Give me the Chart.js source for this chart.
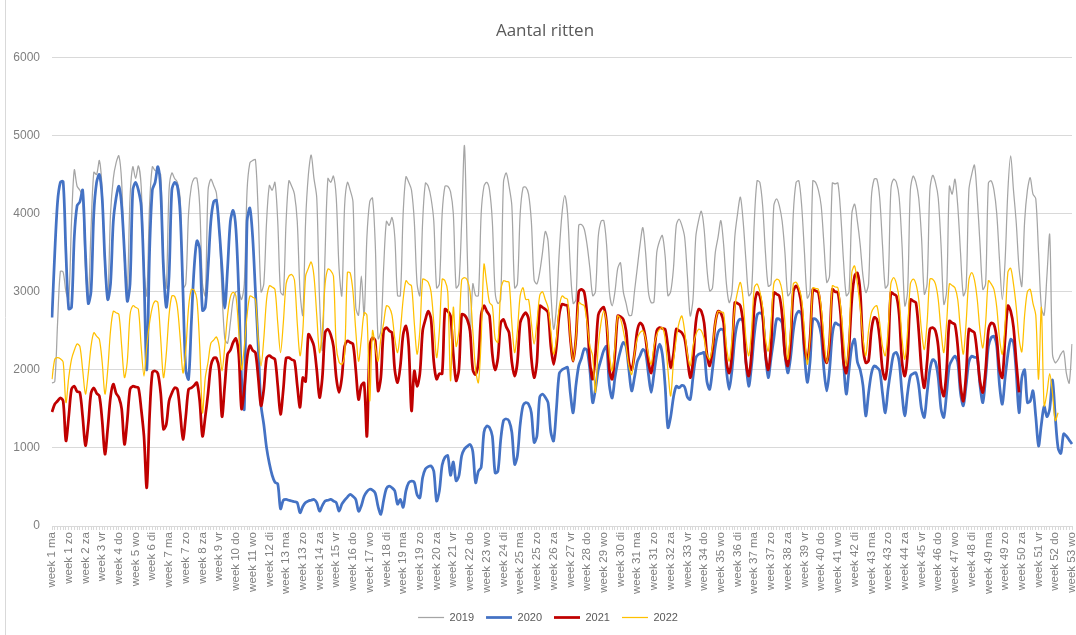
<!DOCTYPE html>
<html>
<head>
<meta charset="utf-8">
<script src="https://cdn.jsdelivr.net/npm/chart.js@4.4.1/dist/chart.umd.min.js"></script>
<style>
  html, body { margin: 0; padding: 0; background: #fff; }
  #wrap { width: 1076px; height: 635px; }
</style>
</head>
<body>
<div id="wrap"><canvas id="chart" width="1076" height="635"></canvas></div>
<script>
// dagen en weken voor de as
const weekdays = ['ma', 'di', 'wo', 'do', 'vr', 'za', 'zo'];
const weekCount = 53;
const dayCount = 367;

// ritten per dag, een regel per week
const ritten2019 = [
  1830, 1850, 2600, 3260, 3250, 3000, 2900,
  3900, 4560, 4350, 4300, 4200, 3300, 2900,
  3800, 4530, 4500, 4680, 4300, 3300, 2900,
  4000, 4450, 4650, 4740, 4400, 3400, 3000,
  4200, 4600, 4450, 4610, 4350, 3300, 2950,
  4100, 4600, 4550, 4540, 4500, 3400, 3050,
  4300, 4520, 4450, 4400, 4200, 3050, 3100,
  4000, 4350, 4450, 4450, 4100, 3100, 2950,
  4300, 4440, 4360, 4260, 3800, 3000, 2400,
  2340, 2600, 2900, 3000, 3000, 2900, 3100,
  4300, 4650, 4680, 4690, 4000, 3000, 3100,
  3900, 4360, 4300, 4400, 3900, 3000, 2960,
  3900, 4420, 4350, 4250, 3900, 3000, 2700,
  3900, 4500, 4750, 4450, 4200, 2900, 2250,
  3500, 4450, 4400, 4480, 4200, 3300, 2950,
  4100, 4400, 4300, 4150, 2800, 2700, 3200,
  2700, 3700, 4150, 4200, 3600, 2400, 2500,
  3300, 3900, 3850, 3950, 3700, 2950, 2950,
  4000, 4470, 4400, 4300, 3900, 3100, 2950,
  3900, 4390, 4350, 4200, 3900, 3050, 3100,
  4000, 4350, 4350, 4280, 4000, 3050, 3100,
  3900, 4870, 3500, 2430, 3100, 2950, 2950,
  4000, 4350, 4400, 4300, 3900, 3000, 2850,
  2900, 4400, 4520, 4350, 4100, 3050, 3100,
  4000, 4330, 4340, 4250, 3900, 3150, 3100,
  3250, 3500, 3770, 3650, 3000, 2520, 2800,
  3500, 4000, 4230, 4000, 3300, 2850, 2900,
  3850, 3860, 3800, 3600, 3300, 2950, 3000,
  3700, 3900, 3910, 3600, 3000, 2820, 3000,
  3300, 3370, 3000, 2850, 2700, 2700, 3000,
  3300, 3600, 3820, 3500, 3000, 2860, 2870,
  3500, 3650, 3720, 3460, 2950, 3000, 3300,
  3850, 3930, 3850, 3700, 3200, 2690, 2900,
  3700, 3910, 4030, 3800, 3300, 3010, 3050,
  3500, 3700, 3910, 3600, 3100, 2860, 3000,
  3700, 4000, 4210, 3900, 3400, 2950, 3000,
  3900, 4420, 4400, 4100, 3500, 3070, 3100,
  4100, 4190, 4100, 3900, 3500, 2950, 3000,
  4000, 4400, 4420, 4100, 3500, 2920, 3000,
  4420, 4400, 4300, 4100, 3600, 3120, 3200,
  4390, 4380, 4390, 4000, 3400, 2950, 3000,
  4000, 4120, 3900, 3600, 3200, 2990, 3100,
  4200, 4440, 4440, 4200, 3600, 3050, 3100,
  4300, 4440, 4400, 4200, 3600, 2820, 3000,
  4300, 4480, 4400, 4200, 3700, 2970, 3100,
  4300, 4490, 4400, 4200, 3600, 2840, 3000,
  4350, 4250, 4440, 4100, 3500, 2950, 3050,
  4300, 4500, 4620, 4200, 3600, 3030, 3100,
  4390, 4420, 4300, 4000, 3400, 2900, 3400,
  4300, 4740, 4300, 3880, 3300, 3070, 3900,
  4300, 4460, 4250, 4190, 3500, 2800, 2700,
  3200, 3730, 2200, 2090, 2130, 2200, 2240,
  1950, 1830, 2330
];

const ritten2020 = [
  2670, 3500, 4150, 4400, 4410, 3500, 2780,
  2800, 3700, 4100, 4150, 4300, 3500, 2850,
  3000, 4000, 4400, 4500, 4200, 3400, 2900,
  3100, 3900, 4200, 4350, 4100, 3500, 2880,
  3100, 4300, 4400, 4300, 4100, 3200, 2000,
  3500, 4300, 4400, 4600, 4300, 3300, 2800,
  3200, 4300, 4400, 4350, 4000, 3000, 2000,
  1880, 2600, 3300, 3650, 3550, 2760, 2800,
  3300, 3900, 4150, 4170, 3800, 3300, 2790,
  3300, 3900, 4040, 3800, 3000, 1900, 1500,
  3900, 4070, 3700, 3000, 2300, 1550, 1300,
  1000, 800, 650, 560, 540, 220, 330,
  340, 330, 320, 310, 300, 170, 250,
  300, 320, 330, 340, 300, 190, 260,
  320, 330, 340, 320, 300, 190, 280,
  330, 370, 405, 380, 340, 190, 260,
  380, 440, 470, 460, 420, 250, 150,
  330, 480, 510, 490, 450, 280, 340,
  240, 450, 555, 575, 560, 400, 360,
  620, 730, 760, 770, 700, 320, 450,
  780, 880, 900, 650, 820, 580, 640,
  900, 985, 1020, 1045, 950, 555, 700,
  750, 1200, 1280, 1260, 1150, 680, 700,
  1100, 1350, 1370, 1345, 1200, 790, 900,
  1300, 1540, 1580, 1560, 1450, 1070, 1150,
  1650, 1690, 1650, 1580, 1200, 1090, 1500,
  1950, 2000, 2020, 2030, 1700, 1450, 1800,
  2050, 2150, 2270, 2250, 2000, 1580, 1750,
  2000, 2130, 2250, 2300, 1800, 1640, 1900,
  2100, 2250, 2350, 2300, 2000, 1730, 1900,
  2100, 2180, 2260, 2220, 1950, 1710, 1950,
  2200, 2330, 2200, 1800, 1260, 1400, 1650,
  1790, 1770, 1800, 1780, 1650, 1620, 1900,
  2150, 2200, 2210, 2220, 1850, 1750, 2000,
  2300, 2480, 2520, 2500, 2000, 1750, 2000,
  2400, 2600, 2650, 2620, 2100, 1790, 2050,
  2450, 2700, 2730, 2700, 2200, 1900, 2150,
  2400, 2650, 2650, 2600, 2200, 1960, 2150,
  2500, 2700, 2750, 2700, 2200, 1840, 2100,
  2650, 2650, 2600, 2450, 2000, 1730, 2000,
  2450, 2600, 2580, 2560, 2100, 1690, 2000,
  2300, 2390, 2100, 2000, 1800, 1410, 1700,
  1950, 2050, 2030, 1985, 1700, 1450, 1750,
  2000, 2200, 2220, 2100, 1700, 1410, 1700,
  1920, 1950, 1960, 1800, 1500, 1390, 1700,
  2000, 2130, 2100, 1900, 1500, 1390, 1700,
  2050, 2130, 2175, 2100, 1700, 1540, 1800,
  2100, 2175, 2160, 2150, 1800, 1580, 1900,
  2300, 2410, 2430, 2300, 1800, 1560, 1900,
  2200, 2390, 2350, 1960, 1450, 1900, 2000,
  1580, 1600, 1730, 1400, 1025, 1300, 1530,
  1400, 1500, 1870, 1400, 1000, 930, 1180,
  1150, 1100, 1050
];

const ritten2021 = [
  1460, 1560, 1600, 1640, 1600, 1090, 1400,
  1750, 1790, 1720, 1710, 1400, 1030, 1300,
  1700, 1770, 1700, 1665, 1350, 920, 1250,
  1650, 1815, 1700, 1645, 1500, 1045, 1350,
  1750, 1790, 1780, 1770, 1500, 1150, 490,
  1400, 1965, 1985, 1950, 1700, 1240, 1300,
  1600, 1700, 1770, 1750, 1450, 1110, 1400,
  1750, 1770, 1800, 1835, 1600, 1150, 1400,
  1700, 2050, 2150, 2150, 2000, 1400, 1800,
  2200, 2250, 2350, 2400, 2200, 1500, 1750,
  2150, 2310, 2250, 2220, 1900, 1540, 1750,
  2150, 2180, 2155, 2135, 1800, 1430, 1750,
  2150, 2155, 2130, 2115, 1800, 1520, 1900,
  1850, 2455, 2400, 2300, 2000, 1645, 1900,
  2475, 2520, 2450, 2300, 1900, 1710, 1900,
  2300, 2370, 2350, 2330, 2000, 1620, 1800,
  1830, 1150, 2300, 2410, 2370, 1730, 1900,
  2500, 2540, 2500, 2475, 2000, 1835, 2050,
  2450, 2560, 2300, 1475, 1985, 1790, 1950,
  2500, 2645, 2750, 2650, 2100, 1880, 1950,
  1950, 2775, 2750, 2690, 2200, 1860, 2000,
  2710, 2700, 2645, 2500, 2000, 1940, 2100,
  2700, 2820, 2750, 2690, 2200, 2000, 2150,
  2600, 2645, 2550, 2475, 2100, 1920, 2100,
  2600, 2690, 2730, 2650, 2150, 1900, 2100,
  2820, 2800, 2775, 2730, 2300, 2070, 2300,
  2700, 2840, 2830, 2820, 2400, 2110, 2400,
  3000, 3030, 2990, 2700, 2100, 1880, 2200,
  2700, 2775, 2800, 2600, 2000, 1880, 2200,
  2690, 2680, 2645, 2500, 2100, 2000, 2200,
  2500, 2600, 2560, 2400, 2100, 1960, 2200,
  2500, 2540, 2530, 2520, 2300, 2030, 2200,
  2520, 2500, 2475, 2400, 2150, 1900, 2100,
  2600, 2775, 2750, 2600, 2200, 2050, 2250,
  2600, 2750, 2730, 2600, 2100, 1960, 2200,
  2860, 2850, 2820, 2600, 2100, 1920, 2200,
  2800, 2990, 2945, 2700, 2200, 2000, 2300,
  2990, 2970, 2945, 2700, 2200, 2050, 2350,
  3000, 3075, 3010, 2800, 2300, 2135, 2400,
  3030, 3010, 2990, 2700, 2200, 2090, 2350,
  3030, 3000, 2990, 2700, 2100, 1960, 2300,
  2900, 3200, 3240, 3000, 2300, 2090, 2115,
  2500, 2670, 2645, 2400, 2000, 1880, 2200,
  2990, 2970, 2945, 2700, 2100, 1920, 2200,
  2900, 2880, 2860, 2500, 2000, 1770, 2100,
  2520, 2540, 2500, 2300, 1800, 1665, 2000,
  2625, 2600, 2580, 2300, 1800, 1600, 1950,
  2520, 2500, 2475, 2200, 1850, 1710, 2000,
  2500, 2600, 2580, 2400, 2000, 1900, 2400,
  2820, 2750, 2550, 2100, 1710
];

const ritten2022 = [
  1880, 2135, 2155, 2140, 2100, 1580, 1900,
  2135, 2250, 2330, 2300, 2000, 1690, 1950,
  2300, 2475, 2430, 2390, 2100, 1690, 2000,
  2500, 2750, 2730, 2710, 2300, 1900, 2100,
  2700, 2820, 2800, 2775, 2300, 1920, 2300,
  2600, 2800, 2880, 2860, 2400, 1900, 2200,
  2700, 2945, 2940, 2800, 2400, 1960, 2250,
  2800, 3030, 3020, 2900, 2300, 1450, 1900,
  2100, 2340, 2380, 2420, 2300, 1985, 2300,
  2700, 2930, 2990, 2945, 2500, 2000, 2300,
  2700, 2945, 2930, 2900, 2400, 2050, 2400,
  2900, 3075, 3060, 3030, 2600, 2220, 2600,
  3100, 3200, 3220, 3150, 2600, 2180, 2500,
  3200, 3300, 3380, 3200, 2700, 2220, 2500,
  3100, 3290, 3270, 3200, 2300, 2100, 2070,
  2200, 3245, 3240, 3000, 2500, 2110, 2400,
  2730, 2700, 1600, 2500, 2300, 2110, 2400,
  2600, 2820, 2800, 2700, 2400, 2220, 2500,
  2900, 3140, 3100, 3075, 2600, 2200, 2500,
  3160, 3150, 3120, 3000, 2600, 2155, 2500,
  3160, 3140, 3000, 1860, 2800, 2300, 2500,
  3150, 3180, 3150, 3000, 2500, 2000, 1835,
  2400, 3350, 3100, 2860, 2820, 2400, 2350,
  3000, 3140, 3130, 3120, 2600, 2220, 2500,
  2950, 3050, 2900, 2900, 2600, 2330, 2600,
  2950, 3000, 2900, 2800, 2500, 2200, 2400,
  2800, 2945, 2920, 2900, 2400, 2110, 2400,
  2860, 2840, 2820, 2600, 2300, 2180, 1710,
  2300, 2600, 2750, 2600, 2200, 1985, 2300,
  2690, 2650, 2500, 2300, 2050, 1940, 2200,
  2400, 2475, 2500, 2400, 2200, 2070, 2300,
  2450, 2520, 2540, 2400, 2000, 1665, 2100,
  2400, 2600, 2690, 2500, 2200, 2050, 2300,
  2450, 2520, 2500, 2400, 2200, 2135, 2300,
  2600, 2750, 2740, 2730, 2300, 2110, 2400,
  2800, 3000, 3120, 2900, 2400, 2180, 2500,
  3050, 3100, 3000, 2800, 2400, 2240, 2600,
  3100, 3160, 3140, 3000, 2600, 2135, 2500,
  3100, 3120, 3050, 2900, 2500, 2070, 2400,
  3050, 3040, 3030, 2800, 2400, 2090, 2400,
  3075, 3060, 3050, 2800, 2400, 2050, 2400,
  3250, 3330, 3100, 2800, 2400, 2180, 2500,
  2730, 2800, 2820, 2600, 2300, 2180, 2500,
  3100, 3180, 3100, 2900, 2400, 2135, 2500,
  3100, 3160, 3100, 2900, 2500, 2260, 2600,
  3160, 3160, 3100, 2900, 2500, 2220, 2600,
  3100, 3080, 3050, 2900, 2500, 2200, 2600,
  3150, 3245, 3150, 2900, 2500, 2280, 2600,
  3140, 3100, 3030, 2800, 2400, 2200, 2600,
  3250, 3300, 3100, 2800, 2400, 2230, 2700,
  3000, 3030, 2850, 2700, 1880, 2800, 1540,
  1700, 1950, 1700, 1350, 1450
];

const yTicks = [0, 1000, 2000, 3000, 4000, 5000, 6000];

// labels: "week 1 ma" ... "week 53 wo"
const labels = [];
for (let w = 1; w <= weekCount; w++) {
  for (const d of weekdays) {
    if (labels.length < dayCount) labels.push(`week ${w} ${d}`);
  }
}

Chart.defaults.font.family = "'Liberation Sans', Arial, sans-serif";
Chart.defaults.color = '#595959';

function series(label, data, color, width, order) {
  return {
    label: label,
    data: data,
    borderColor: color,
    backgroundColor: color,
    borderWidth: width,
    pointRadius: 0,
    pointHoverRadius: 0,
    tension: 0.3,
    order: order
  };
}

// Excel centreert titel en legenda iets rechts van het midden, plus linker kaderlijn
const excelFrame = {
  id: 'excelFrame',
  afterLayout(chart) {
    const shift = (box, dx) => { box.left += dx; box.right += dx; };
    shift(chart.titleBlock, 9);
    shift(chart.legend, 12);
  },
  beforeDraw(chart) {
    const c = chart.ctx;
    c.save();
    c.strokeStyle = '#d9d9d9';
    c.lineWidth = 1;
    c.beginPath();
    c.moveTo(5.5, 0);
    c.lineTo(5.5, chart.height);
    c.stroke();
    c.restore();
  }
};

const ctx = document.getElementById('chart').getContext('2d');
new Chart(ctx, {
  type: 'line',
  data: {
    labels: labels,
    datasets: [
      series('2019', ritten2019, '#a5a5a5', 1.25, 4),
      series('2020', ritten2020, '#4472c4', 2.75, 3),
      series('2021', ritten2021, '#c00000', 2.75, 2),
      series('2022', ritten2022, '#ffc000', 1.25, 1)
    ]
  },
  options: {
    responsive: false,
    animation: false,
    layout: { padding: { left: 0, right: 4, top: 0, bottom: 2 } },
    plugins: {
      title: {
        display: true,
        text: 'Aantal ritten',
        color: '#595959',
        font: { family: "'Open Sans', sans-serif", size: 17, weight: 'normal' },
        padding: { top: 21, bottom: 16 }
      },
      legend: {
        position: 'bottom',
        labels: {
          usePointStyle: true,
          pointStyle: 'line',
          pointStyleWidth: 26,
          color: '#595959',
          font: { size: 11 },
          padding: 12,
          sort: (a, b) => a.datasetIndex - b.datasetIndex
        }
      },
      tooltip: { enabled: false }
    },
    scales: {
      x: {
        grid: { display: true, drawOnChartArea: false, drawTicks: true, tickLength: 4, color: '#d9d9d9' },
        border: { color: '#d9d9d9' },
        ticks: {
          autoSkip: false,
          maxRotation: 90,
          minRotation: 90,
          color: '#7f7f7f',
          font: { size: 11.5 },
          padding: 2,
          callback: (v, i) => (i % 6 === 0 ? labels[i] : '')
        },
        afterFit: (s) => {
          s.height = 74;
          s.paddingLeft = 0;
          s.paddingRight = 0;
        }
      },
      y: {
        min: yTicks[0],
        max: yTicks[yTicks.length - 1],
        ticks: { stepSize: 1000, color: '#7f7f7f', font: { size: 12 }, padding: 12, callback: (v) => String(v) },
        grid: { color: '#d9d9d9', drawTicks: false },
        border: { display: false },
        afterFit: (s) => { s.width = 52; }
      }
    }
  },
  plugins: [excelFrame]
});
</script>
</body>
</html>
